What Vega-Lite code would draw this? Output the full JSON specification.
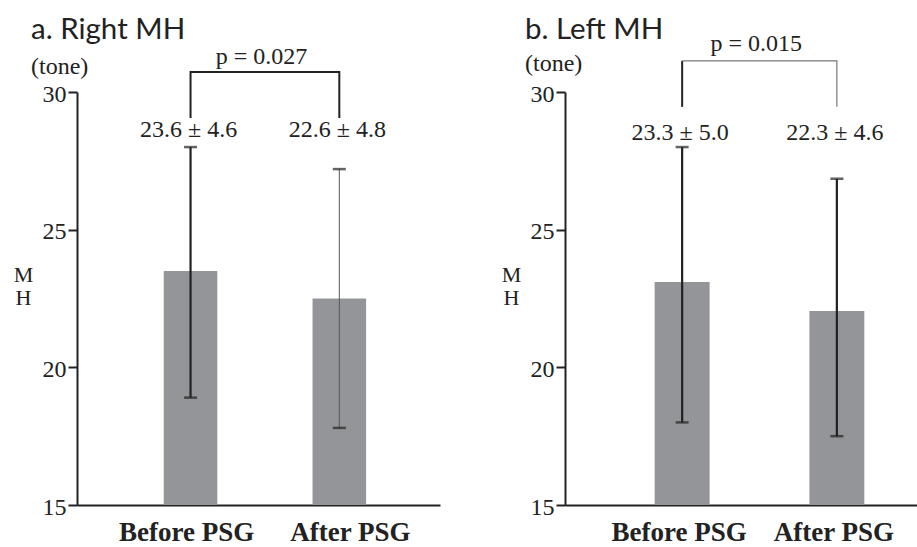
{
  "$schema": "https://vega.github.io/schema/vega-lite/v6.json",
  "autosize": {"type": "none"},
  "padding": {"left": 77, "top": 92, "right": 840, "bottom": 455},
  "background": "white",
  "config": {"view": {"stroke": null}},
  "bounds": "flush",
  "spacing": 125,
  "hconcat": [
    {
      "width": 363,
      "height": 413,
      "title": {"text": "a. Right MH", "subtitle": "(tone)", "anchor": "start", "frame": "group", "dx": -46, "offset": -35, "font": "Lato", "fontSize": 29.5, "fontWeight": "normal", "color": "#222", "subtitleFont": "Liberation Serif", "subtitleFontSize": 24, "subtitleColor": "#222", "subtitlePadding": 10},
      "layer": [
        {
          "data": {"values": [
            {"cat": "Before PSG", "mean": 23.5, "lo": 18.9, "hi": 28.0, "label": "23.6 ± 4.6"},
            {"cat": "After PSG", "mean": 22.5, "lo": 17.8, "hi": 27.2, "label": "22.6 ± 4.8"}
          ]},
          "layer": [
            {
              "mark": {"type": "bar", "color": "#939598"},
              "encoding": {
                "x": {"field": "cat", "type": "nominal", "sort": ["Before PSG", "After PSG"],
                  "scale": {"paddingInner": 0.64, "paddingOuter": 0.54, "align": 0.54},
                  "axis": {"title": null, "labelFont": "Liberation Serif", "labelFontWeight": "bold", "labelFontSize": 27, "labelColor": "#222", "labelPadding": 14, "labelAngle": 0, "labelOffset": {"condition": {"test": "datum.value === 'Before PSG'", "value": -4}, "value": 11}, "ticks": false, "domainColor": "#222", "domainWidth": 2}},
                "y": {"field": "mean", "type": "quantitative", "scale": {"domain": [15, 30], "zero": false, "nice": false},
                  "axis": {"values": [15, 20, 25, 30], "title": ["M", "H"], "titleAngle": 0, "titleAlign": "center", "titleBaseline": "top", "titleX": -54, "titleY": 172, "titleFont": "Liberation Serif", "titleFontSize": 22, "titleFontWeight": "normal", "titleLineHeight": 23, "titleColor": "#222", "labelFont": "Liberation Serif", "labelFontSize": 24, "labelColor": "#222", "labelPadding": 2, "labelOffset": 2, "tickSize": 9, "tickWidth": 2, "tickColor": "#222", "domainColor": "#222", "domainWidth": 2, "grid": false}},
                "y2": {"datum": 15}
              }
            },
            {
              "mark": {"type": "rule"},
              "encoding": {
                "x": {"field": "cat", "type": "nominal", "sort": ["Before PSG", "After PSG"]},
                "y": {"field": "lo", "type": "quantitative", "scale": {"domain": [15, 30], "zero": false, "nice": false}},
                "y2": {"field": "hi"},
                "strokeWidth": {"condition": {"test": "datum.cat === 'Before PSG'", "value": 2.2}, "value": 1},
                "color": {"condition": {"test": "datum.cat === 'Before PSG'", "value": "#222"}, "value": "#555"}
              }
            },
            {
              "mark": {"type": "tick", "color": "#222", "size": 13, "thickness": 2.5},
              "encoding": {
                "x": {"field": "cat", "type": "nominal", "sort": ["Before PSG", "After PSG"]},
                "y": {"field": "lo", "type": "quantitative", "scale": {"domain": [15, 30], "zero": false, "nice": false}}
              }
            },
            {
              "mark": {"type": "tick", "color": "#222", "size": 13, "thickness": 2.5},
              "encoding": {
                "x": {"field": "cat", "type": "nominal", "sort": ["Before PSG", "After PSG"]},
                "y": {"field": "hi", "type": "quantitative", "scale": {"domain": [15, 30], "zero": false, "nice": false}}
              }
            },
            {
              "mark": {"type": "text", "font": "Liberation Serif", "fontSize": 24, "baseline": "middle", "color": "#222", "dx": -2},
              "encoding": {
                "x": {"field": "cat", "type": "nominal", "sort": ["Before PSG", "After PSG"]},
                "y": {"datum": 28.62, "type": "quantitative", "scale": {"domain": [15, 30], "zero": false, "nice": false}},
                "text": {"field": "label"}
              }
            }
          ]
        },
        {
          "data": {"values": [
            {"cat": "Before PSG", "v": 29.06, "o": 1},
            {"cat": "Before PSG", "v": 30.73, "o": 2},
            {"cat": "After PSG", "v": 30.73, "o": 3},
            {"cat": "After PSG", "v": 29.06, "o": 4}
          ]},
          "mark": {"type": "line", "color": "#222", "strokeWidth": 2},
          "encoding": {
            "x": {"field": "cat", "type": "nominal", "sort": ["Before PSG", "After PSG"]},
            "y": {"field": "v", "type": "quantitative", "scale": {"domain": [15, 30], "zero": false, "nice": false}},
            "order": {"field": "o"}
          }
        },
        {
          "data": {"values": [{"p": "p = 0.027"}]},
          "mark": {"type": "text", "font": "Liberation Serif", "fontSize": 24, "baseline": "middle", "color": "#222", "dx": 71},
          "encoding": {
            "x": {"datum": "Before PSG", "type": "nominal"},
            "y": {"datum": 31.27, "type": "quantitative", "scale": {"domain": [15, 30], "zero": false, "nice": false}},
            "text": {"field": "p"}
          }
        }
      ]
    },
    {
      "width": 352,
      "height": 413,
      "title": {"text": "b. Left MH", "subtitle": "(tone)", "anchor": "start", "frame": "group", "dx": -40, "offset": -45, "font": "Lato", "fontSize": 29.5, "fontWeight": "normal", "color": "#222", "subtitleFont": "Liberation Serif", "subtitleFontSize": 24, "subtitleColor": "#222", "subtitlePadding": 6},
      "layer": [
        {
          "data": {"values": [
            {"cat": "Before PSG", "mean": 23.1, "lo": 18.0, "hi": 28.0, "label": "23.3 ± 5.0"},
            {"cat": "After PSG", "mean": 22.05, "lo": 17.5, "hi": 26.85, "label": "22.3 ± 4.6"}
          ]},
          "layer": [
            {
              "mark": {"type": "bar", "color": "#939598"},
              "encoding": {
                "x": {"field": "cat", "type": "nominal", "sort": ["Before PSG", "After PSG"],
                  "scale": {"paddingInner": 0.645, "paddingOuter": 0.46, "align": 0.63},
                  "axis": {"title": null, "labelFont": "Liberation Serif", "labelFontWeight": "bold", "labelFontSize": 27, "labelColor": "#222", "labelPadding": 14, "labelAngle": 0, "labelOffset": -3, "ticks": false, "domainColor": "#222", "domainWidth": 2}},
                "y": {"field": "mean", "type": "quantitative", "scale": {"domain": [15, 30], "zero": false, "nice": false},
                  "axis": {"values": [15, 20, 25, 30], "title": ["M", "H"], "titleAngle": 0, "titleAlign": "center", "titleBaseline": "top", "titleX": -54, "titleY": 172, "titleFont": "Liberation Serif", "titleFontSize": 22, "titleFontWeight": "normal", "titleLineHeight": 23, "titleColor": "#222", "labelFont": "Liberation Serif", "labelFontSize": 24, "labelColor": "#222", "labelPadding": 2, "labelOffset": 2, "tickSize": 9, "tickWidth": 2, "tickColor": "#222", "domainColor": "#222", "domainWidth": 2, "grid": false}},
                "y2": {"datum": 15}
              }
            },
            {
              "mark": {"type": "rule", "color": "#222", "strokeWidth": 2.2},
              "encoding": {
                "x": {"field": "cat", "type": "nominal", "sort": ["Before PSG", "After PSG"]},
                "y": {"field": "lo", "type": "quantitative", "scale": {"domain": [15, 30], "zero": false, "nice": false}},
                "y2": {"field": "hi"}
              }
            },
            {
              "mark": {"type": "tick", "color": "#222", "size": 13, "thickness": 2.5},
              "encoding": {
                "x": {"field": "cat", "type": "nominal", "sort": ["Before PSG", "After PSG"]},
                "y": {"field": "lo", "type": "quantitative", "scale": {"domain": [15, 30], "zero": false, "nice": false}}
              }
            },
            {
              "mark": {"type": "tick", "color": "#222", "size": 13, "thickness": 2.5},
              "encoding": {
                "x": {"field": "cat", "type": "nominal", "sort": ["Before PSG", "After PSG"]},
                "y": {"field": "hi", "type": "quantitative", "scale": {"domain": [15, 30], "zero": false, "nice": false}}
              }
            },
            {
              "mark": {"type": "text", "font": "Liberation Serif", "fontSize": 24, "baseline": "middle", "color": "#222", "dx": -2},
              "encoding": {
                "x": {"field": "cat", "type": "nominal", "sort": ["Before PSG", "After PSG"]},
                "y": {"datum": 28.51, "type": "quantitative", "scale": {"domain": [15, 30], "zero": false, "nice": false}},
                "text": {"field": "label"}
              }
            }
          ]
        },
        {
          "data": {"values": [
            {"cat": "Before PSG", "v": 29.46},
            {"cat": "Before PSG", "v": 31.13}
          ]},
          "mark": {"type": "line", "color": "#222", "strokeWidth": 2},
          "encoding": {
            "x": {"field": "cat", "type": "nominal", "sort": ["Before PSG", "After PSG"]},
            "y": {"field": "v", "type": "quantitative", "scale": {"domain": [15, 30], "zero": false, "nice": false}}
          }
        },
        {
          "data": {"values": [
            {"cat": "Before PSG", "v": 31.13, "o": 1},
            {"cat": "After PSG", "v": 31.13, "o": 2},
            {"cat": "After PSG", "v": 29.46, "o": 3}
          ]},
          "mark": {"type": "line", "color": "#777", "strokeWidth": 1.2},
          "encoding": {
            "x": {"field": "cat", "type": "nominal", "sort": ["Before PSG", "After PSG"]},
            "y": {"field": "v", "type": "quantitative", "scale": {"domain": [15, 30], "zero": false, "nice": false}},
            "order": {"field": "o"}
          }
        },
        {
          "data": {"values": [{"p": "p = 0.015"}]},
          "mark": {"type": "text", "font": "Liberation Serif", "fontSize": 24, "baseline": "middle", "color": "#222", "dx": 74},
          "encoding": {
            "x": {"datum": "Before PSG", "type": "nominal"},
            "y": {"datum": 31.75, "type": "quantitative", "scale": {"domain": [15, 30], "zero": false, "nice": false}},
            "text": {"field": "p"}
          }
        }
      ]
    }
  ]
}
